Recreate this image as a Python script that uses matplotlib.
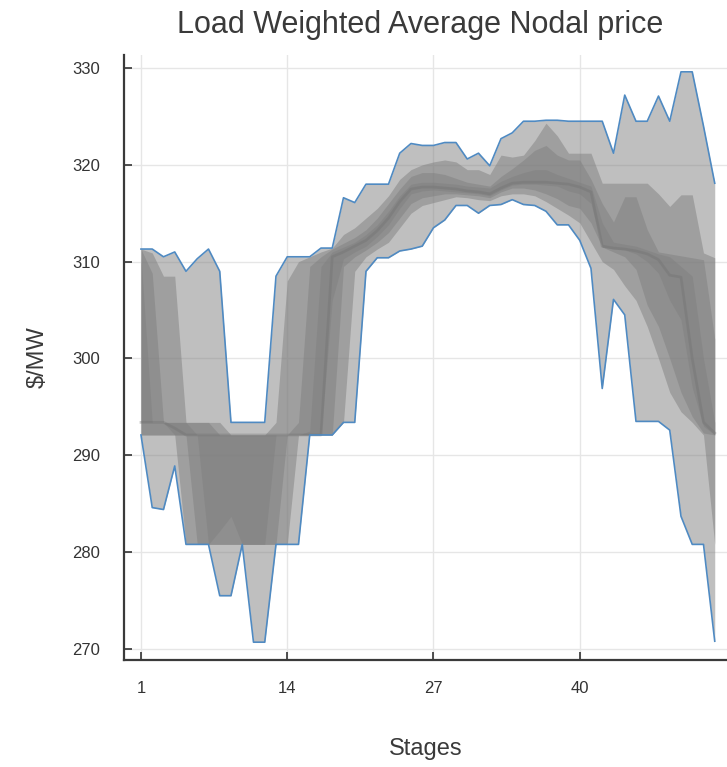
import numpy as np
import matplotlib
matplotlib.use("Agg")
import matplotlib.pyplot as plt

plt.rcParams['font.family'] = ['Liberation Sans', 'DejaVu Sans']

# Stage index and price quantiles ($/MW) per stage
stages = np.arange(1, 53)

p0 = [292.1, 284.6, 284.4, 288.9, 280.8, 280.8, 280.8, 275.5, 275.5, 280.8,
      270.7, 270.7, 280.8, 280.8, 280.8, 292.1, 292.1, 292.1, 293.4, 293.4,
      309.0, 310.4, 310.4, 311.1, 311.3, 311.6, 313.5, 314.3, 315.8, 315.8,
      315.0, 315.8, 315.9, 316.4, 315.9, 315.8, 315.2, 313.8, 313.8, 312.2,
      309.3, 296.9, 306.1, 304.5, 293.5, 293.5, 293.5, 292.6, 283.7, 280.8,
      280.8, 270.8]
p10 = [292.1, 292.1, 292.1, 292.1, 280.8, 280.8, 280.8, 280.8, 280.8, 280.8,
       280.8, 280.8, 280.8, 280.8, 292.1, 292.1, 292.1, 292.1, 293.4, 309.0,
       310.5, 311.3, 312.0, 313.5, 315.0, 315.8, 316.1, 316.4, 316.7, 316.6,
       316.4, 316.3, 316.8, 317.0, 317.0, 316.8, 316.2, 315.5, 314.8, 314.0,
       312.0, 310.0, 309.2, 307.5, 306.0, 303.3, 300.0, 296.5, 294.5, 293.4,
       292.1, 280.8]
p25 = [292.1, 292.1, 292.1, 292.1, 292.1, 280.8, 280.8, 280.8, 280.8, 280.8,
       280.8, 280.8, 280.8, 292.1, 292.1, 292.1, 292.1, 292.1, 309.5, 310.5,
       311.2, 312.0, 313.0, 314.5, 316.0, 316.6, 316.8, 317.0, 317.0, 316.9,
       316.8, 316.6, 317.2, 317.6, 317.6, 317.4, 317.0, 316.5, 315.8, 315.5,
       314.0, 311.5, 311.0, 310.5, 309.2, 305.5, 303.3, 300.0, 296.5, 294.0,
       292.3, 292.1]
p40 = [293.4, 293.4, 293.4, 292.1, 292.1, 292.1, 280.8, 282.2, 283.7, 280.8,
       280.8, 280.8, 292.1, 292.1, 292.1, 292.1, 292.1, 306.0, 310.3, 311.0,
       311.6, 312.6, 313.8, 315.5, 317.0, 317.3, 317.4, 317.3, 317.2, 317.1,
       317.0, 316.8, 317.4, 317.9, 318.0, 318.0, 317.9, 317.8, 317.3, 317.0,
       316.0, 311.5, 311.3, 311.2, 310.8, 310.0, 308.8, 306.0, 304.0, 297.0,
       293.0, 292.1]
p50 = [293.4, 293.4, 293.4, 292.8, 292.1, 292.1, 292.1, 292.1, 292.1, 292.1,
       292.1, 292.1, 292.1, 292.1, 292.1, 292.1, 292.1, 310.5, 311.0, 311.6,
       312.2, 313.2, 314.5, 316.2, 317.5, 317.7, 317.7, 317.6, 317.5, 317.3,
       317.2, 317.0, 317.6, 318.1, 318.2, 318.2, 318.2, 318.1, 318.0, 317.7,
       317.2, 311.6, 311.4, 311.3, 311.1, 310.8, 310.2, 308.6, 308.4, 300.0,
       293.4, 292.3]
p60 = [310.5, 293.4, 293.4, 293.4, 293.4, 292.1, 292.1, 292.1, 292.1, 292.1,
       292.1, 292.1, 292.1, 292.1, 292.1, 292.5, 309.5, 311.0, 311.5, 312.0,
       312.8, 313.8, 315.2, 316.8, 318.0, 318.2, 318.2, 318.1, 318.0, 317.8,
       317.7, 317.6, 318.3, 318.8, 319.2, 319.5, 319.5, 319.0, 318.6, 318.2,
       317.8, 314.0, 312.0, 311.8, 311.6, 311.2, 310.8, 310.5, 309.5, 308.5,
       300.0, 293.4]
p75 = [311.3, 308.8, 293.4, 293.4, 293.4, 293.4, 293.4, 292.1, 292.1, 292.1,
       292.1, 292.1, 292.1, 292.1, 293.4, 309.5, 310.5, 311.3, 311.9, 312.5,
       313.3, 314.5, 316.0, 317.5, 318.8, 319.2, 319.2, 319.0, 318.6, 318.2,
       318.0, 317.8, 318.8, 319.6, 320.5, 321.5, 322.0, 321.0, 320.5, 320.5,
       318.5, 316.0, 314.1, 316.7, 316.7, 313.3, 311.0, 310.8, 310.6, 310.4,
       310.2, 302.0]
p90 = [311.3, 310.9, 308.5, 308.5, 293.4, 293.4, 293.4, 293.4, 292.1, 292.1,
       292.1, 292.1, 293.4, 308.0, 310.0, 310.5, 311.0, 311.4, 312.8, 313.5,
       314.5, 315.5, 316.8, 318.5, 319.5, 320.0, 320.3, 320.5, 320.3, 319.5,
       319.5, 319.0, 321.0, 320.8, 321.0, 322.5, 324.3, 323.0, 321.2, 321.2,
       321.2, 318.1, 318.1, 318.1, 318.1, 318.1, 317.0, 315.7, 316.9, 316.9,
       310.9, 310.4]
p100 = [311.3, 311.3, 310.5, 311.0, 309.0, 310.3, 311.3, 309.0, 293.4, 293.4,
        293.4, 293.4, 308.5, 310.5, 310.5, 310.5, 311.4, 311.4, 316.6, 316.1,
        318.0, 318.0, 318.0, 321.2, 322.2, 322.0, 322.0, 322.3, 322.3, 320.6,
        321.2, 319.9, 322.7, 323.3, 324.5, 324.5, 324.6, 324.6, 324.5, 324.5,
        324.5, 324.5, 321.2, 327.2, 324.5, 324.5, 327.1, 324.5, 329.6, 329.6,
        324.0, 318.1]

xticks = [1, 14, 27, 40]
yticks = [270, 280, 290, 300, 310, 320, 330]

W, H = 727, 767
fig = plt.figure(figsize=(W / 100, H / 100), dpi=100)
ax = fig.add_axes([124 / W, 1 - 660 / H, (W - 124) / W, (660 - 55) / H])

band_color = '#808080'
band_alpha = 0.5
for lo, hi in [(p0, p100), (p10, p90), (p25, p75), (p40, p60)]:
    ax.fill_between(stages, lo, hi, color=band_color, alpha=band_alpha,
                    linewidth=0, zorder=2)

ax.plot(stages, p50, color='#707070', linewidth=2.0, alpha=0.35, zorder=3)
ax.plot(stages, p0, color='#4f8ac2', linewidth=1.2, zorder=4)
ax.plot(stages, p100, color='#4f8ac2', linewidth=1.2, zorder=4)

ax.set_xlim(-0.51, 53.09)
ax.set_ylim(268.86, 331.34)
ax.set_xticks(xticks)
ax.set_yticks(yticks)
ax.set_xticklabels([str(t) for t in xticks])
ax.set_yticklabels([str(t) for t in yticks])

ax.grid(True, color='#e6e6e6', linewidth=1.0, zorder=0)
ax.set_axisbelow(True)

for side in ['top', 'right']:
    ax.spines[side].set_visible(False)
for side in ['left', 'bottom']:
    ax.spines[side].set_color('#3a3a3a')
    ax.spines[side].set_linewidth(1.6)

ax.tick_params(axis='both', direction='in', length=6, width=1.1,
               color='#222222', labelsize=12, labelcolor='#333333')
ax.tick_params(axis='y', pad=17)
ax.tick_params(axis='x', pad=15)

ax.set_xlabel('Stages', fontsize=17, color='#3a3a3a', labelpad=30)
ax.set_ylabel('$/MW', fontsize=17, color='#3a3a3a', labelpad=17)

fig.text(420 / W, 1 - 25 / H, 'Load Weighted Average Nodal price',
         ha='center', va='center', fontsize=22, color='#3a3a3a')

fig.savefig('out.png', dpi=100)
